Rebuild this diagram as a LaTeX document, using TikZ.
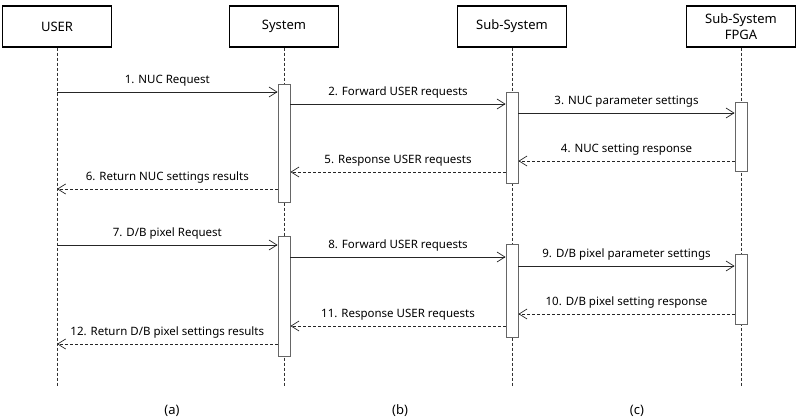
\documentclass[tikz,border=0pt]{standalone}
\usepackage{fontspec}
\setmainfont{Noto Sans}
\usetikzlibrary{arrows.meta}
\begin{document}
\begin{tikzpicture}[x=1pt,y=-1pt,
  head/.style={draw, line width=1.1pt, minimum width=109pt, minimum height=41pt, inner sep=1pt, align=center, font=\fontsize{13}{16}\selectfont},
  life/.style={draw=black!80, line width=0.6pt, dash pattern=on 3pt off 2pt},
  act/.style={draw=black!60, fill=white, line width=0.8pt, minimum width=12pt, inner sep=0pt, anchor=north},
  req/.style={draw=black!85, line width=0.8pt, -{Straight Barb[length=8pt,width=10pt,line width=0.7pt]}},
  resp/.style={req, dash pattern=on 3pt off 2pt},
  lbl/.style={font=\fontsize{11.5}{13}\selectfont, inner sep=0pt, yshift=11pt},
  captext/.style={font=\fontsize{13}{15}\selectfont}
]
\useasboundingbox (0,0) rectangle (800,419);
% headers
\node[head] (user) at (57,26.5) {USER};
\node[head] (sys) at (284,26.5) {System};
\node[head] (sub) at (512,26.5) {Sub-System};
\node[head] (fpga) at (741,26.5) {Sub-System\\FPGA};
% lifeline ends
\coordinate (userE) at (57,386);
\coordinate (sysE) at (284,386);
\coordinate (subE) at (512,386);
\coordinate (fpgaE) at (741,386);
\draw[life] (user.south) -- (userE);
\draw[life] (sys.south) -- (sysE);
\draw[life] (sub.south) -- (subE);
\draw[life] (fpga.south) -- (fpgaE);
% activations
\node[act, minimum height=118pt] (s1) at (284,84) {};
\node[act, minimum height=91pt] (b1) at (512,92) {};
\node[act, minimum height=69pt] (f1) at (741,102) {};
\node[act, minimum height=120pt] (s2) at (284,236) {};
\node[act, minimum height=93pt] (b2) at (512,244) {};
\node[act, minimum height=70pt] (f2) at (741,254) {};
% message anchor points on USER lifeline
\coordinate (u1) at (57,92);
\coordinate (u6) at (57,189);
\coordinate (u7) at (57,245);
\coordinate (u12) at (57,344);
% first sequence
\draw[req] (u1) -- (s1.west |- u1) node[lbl, midway] {1. NUC Request};
\draw[req] (s1.east |- 0,104) -- (b1.west |- 0,104) node[lbl, midway] {2. Forward USER requests};
\draw[req] (b1.east |- 0,113) -- (f1.west |- 0,113) node[lbl, midway] {3. NUC parameter settings};
\draw[resp] (f1.west |- 0,161) -- (b1.east |- 0,161) node[lbl, midway] {4. NUC setting response};
\draw[resp] (b1.west |- 0,172) -- (s1.east |- 0,172) node[lbl, midway] {5. Response USER requests};
\draw[resp] (s1.west |- u6) -- (u6) node[lbl, midway] {6. Return NUC settings results};
% second sequence
\draw[req] (u7) -- (s2.west |- u7) node[lbl, midway] {7. D/B pixel Request};
\draw[req] (s2.east |- 0,257) -- (b2.west |- 0,257) node[lbl, midway] {8. Forward USER requests};
\draw[req] (b2.east |- 0,266) -- (f2.west |- 0,266) node[lbl, midway] {9. D/B pixel parameter settings};
\draw[resp] (f2.west |- 0,314) -- (b2.east |- 0,314) node[lbl, midway] {10. D/B pixel setting response};
\draw[resp] (b2.west |- 0,326) -- (s2.east |- 0,326) node[lbl, midway] {11. Response USER requests};
\draw[resp] (s2.west |- u12) -- (u12) node[lbl, midway] {12. Return D/B pixel settings results};
% captions
\node[captext] (capa) at (172,411) {(a)};
\node[captext] (capb) at (400,411) {(b)};
\node[captext] (capc) at (637,411) {(c)};
\end{tikzpicture}
\end{document}
